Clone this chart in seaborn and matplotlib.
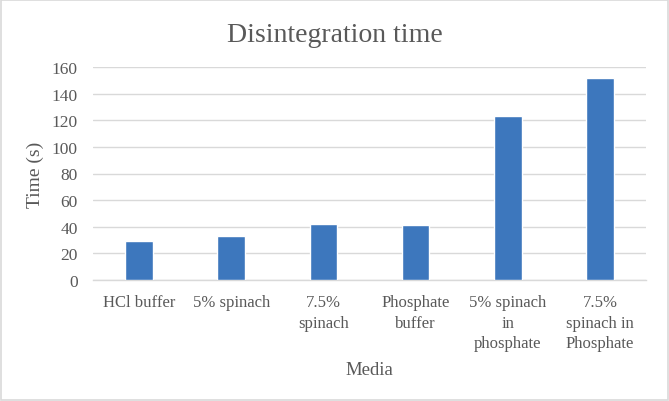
import matplotlib
matplotlib.use("Agg")
import matplotlib.pyplot as plt
import seaborn as sns
import pandas as pd
from matplotlib.patches import Rectangle

categories = ["HCl buffer", "5% spinach", "7.5%\nspinach", "Phosphate\nbuffer",
              "5% spinach\nin\nphosphate", "7.5%\nspinach in\nPhosphate"]
times = [29, 33, 42, 41, 123, 152]
yticks = [0, 20, 40, 60, 80, 100, 120, 140, 160]

df = pd.DataFrame({"Media": categories, "Time": times})

sns.set_theme(style="white")
plt.rcParams['font.family'] = ['Liberation Serif', 'DejaVu Serif']
text_color = "#595959"

fig = plt.figure(figsize=(6.69, 4.02), dpi=100)
ax = fig.add_axes([93 / 669, 1 - 281 / 402, 553 / 669, 213 / 402])

sns.barplot(data=df, x="Media", y="Time", color="#3D77BD", width=0.30,
            saturation=1, ax=ax, zorder=3)

ax.set_ylim(0, 160)
ax.set_yticks(yticks)
ax.set_yticklabels([str(v) for v in yticks], fontsize=12.5, color=text_color)
ax.tick_params(axis='y', length=0, pad=11)
ax.tick_params(axis='x', length=0, pad=10, labelsize=12, labelcolor=text_color)
ax.set_xlim(-0.5, len(categories) - 0.5)
ax.yaxis.grid(True, color="#d9d9d9", linewidth=1, zorder=0)
for s in ["top", "right", "left"]:
    ax.spines[s].set_visible(False)
ax.spines["bottom"].set_color("#d9d9d9")
ax.spines["bottom"].set_linewidth(1)

for lbl in ax.get_xticklabels():
    lbl.set_linespacing(1.4)

ax.set_xlabel("Media", fontsize=13.5, color=text_color)
ax.xaxis.label.set_va("baseline")
ax.xaxis.set_label_coords(0.5, -(375 - 281) / 213)
ax.set_ylabel("Time (s)", fontsize=14, color=text_color)
ax.yaxis.label.set_va("center")
ax.yaxis.set_label_coords(-58 / 553, 0.5)

fig.text(0.5, 1 - 42 / 402, "Disintegration time", ha="center", va="baseline",
         fontsize=20, color=text_color)

fig.patches.append(Rectangle((0.002, 0.003), 0.996, 0.994, transform=fig.transFigure,
                             fill=False, edgecolor="#d9d9d9", linewidth=1.2))

fig.savefig("out.png", dpi=100)
